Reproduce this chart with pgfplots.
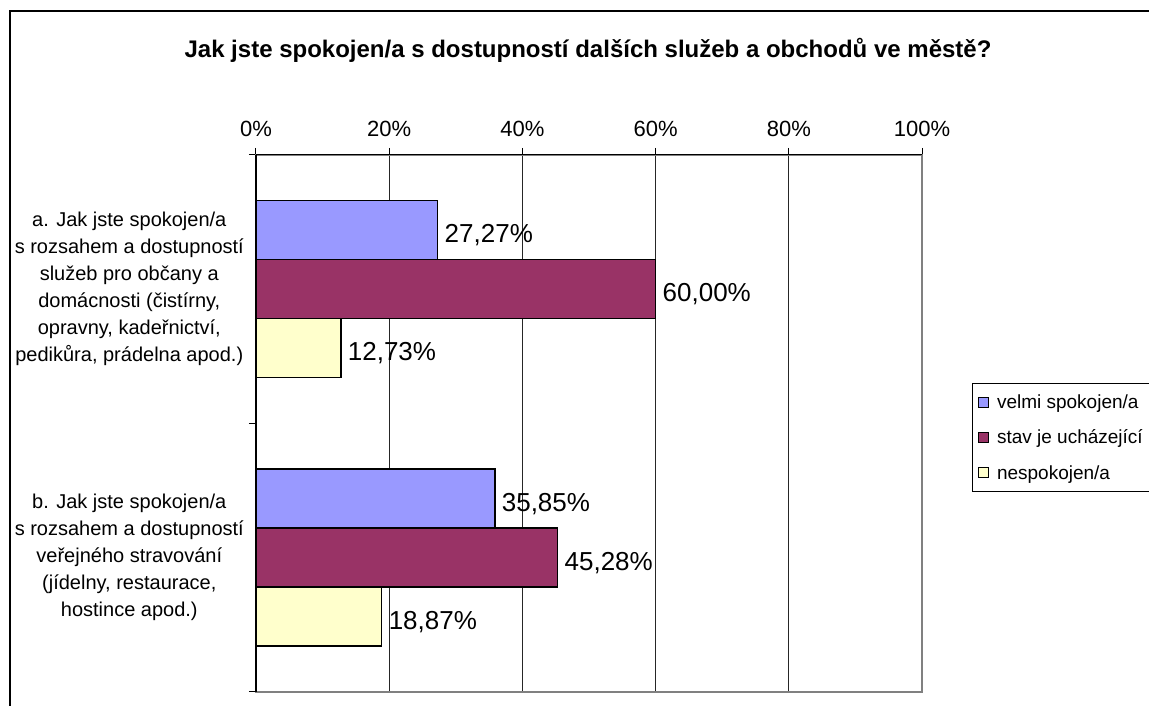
\documentclass[border=0pt]{standalone}
\usepackage{fontspec}
\setmainfont{Liberation Sans}
\usepackage{pgfplots}
\pgfplotsset{compat=1.18}
\definecolor{xlblue}{RGB}{153,153,255}
\definecolor{xlplum}{RGB}{153,51,102}
\definecolor{xlcream}{RGB}{255,255,204}

\begin{document}
\begin{tikzpicture}[x=1pt,y=1pt]
\useasboundingbox (0,0) rectangle (1149,706);
% outer chart frame (cut off right and bottom)
\draw[line width=1.5pt] (10,0) -- (10,695) -- (1149,695);
\node[font=\bfseries\fontsize{24}{28}\selectfont] at (588,656)
  {Jak jste spokojen/a s dostupností dalších služeb a obchodů ve městě?};
\begin{axis}[
  at={(256pt,14pt)}, anchor=south west,
  scale only axis, width=666pt, height=537pt,
  clip=false,
  xbar=0pt, bar width=59pt,
  xmin=0, xmax=100, ymin=-0.5, ymax=1.5,
  axis line style={draw=gray, line width=1.5pt},
  xtick={0,20,40,60,80,100},
  xticklabels={0\%,20\%,40\%,60\%,80\%,100\%},
  xtick pos=upper, xticklabel pos=upper,
  xticklabel style={font=\fontsize{22}{26}\selectfont, yshift=8pt},
  ytick={-0.5,0.5,1.5}, yticklabels={}, ytick pos=left,
  extra y ticks={0,1},
  extra y tick labels={
    {b. Jak jste spokojen/a\\s rozsahem a dostupností\\veřejného stravování\\(jídelny, restaurace,\\hostince apod.)},
    {a. Jak jste spokojen/a\\s rozsahem a dostupností\\služeb pro občany a\\domácnosti (čistírny,\\opravny, kadeřnictví,\\pedikůra, prádelna apod.)}},
  extra y tick style={major tick length=0pt},
  yticklabel style={font=\fontsize{20}{27}\selectfont, align=center, inner sep=0pt, xshift=-12pt},
  tick align=outside, major tick length=7pt,
  tick style={black, line width=1pt},
  xmajorgrids, grid style={black!85, line width=1pt},
  point meta=x,
  nodes near coords={\pgfmathprintnumber[fixed,fixed zerofill,precision=2,use comma,assume math mode=true]{\pgfplotspointmeta}\%},
  nodes near coords style={font=\fontsize{26}{30}\selectfont, anchor=west, xshift=3pt, yshift=-5pt},
  every axis plot/.append style={draw=black, line width=1.5pt,
    legend image code/.code={\path[draw=none, fill=none] (0pt,-5pt) rectangle (17pt,5pt);
      \draw[#1, line width=1pt] (0pt,-5pt) rectangle (10pt,5pt);}},
  reverse legend,
  legend style={at={(1.0751,0.5754)}, anchor=north west, draw=black, line width=1pt,
    font=\fontsize{19}{22}\selectfont, legend cell align=left, row sep=16pt,
    inner xsep=5pt, inner ysep=9pt},
]
\addplot[fill=xlcream] coordinates {(12.73,1) (18.87,0)};
\addplot[fill=xlplum] coordinates {(60.00,1) (45.28,0)};
\addplot[fill=xlblue] coordinates {(27.27,1) (35.85,0)};
\legend{nespokojen/a, {stav je ucházející\rule{30pt}{0pt}}, velmi spokojen/a}
\draw[black, line width=2pt] (rel axis cs:0,0) -- (rel axis cs:0,1);
\draw[black, line width=1pt] (rel axis cs:0,1) -- (rel axis cs:1,1);
\end{axis}
\end{tikzpicture}
\end{document}
